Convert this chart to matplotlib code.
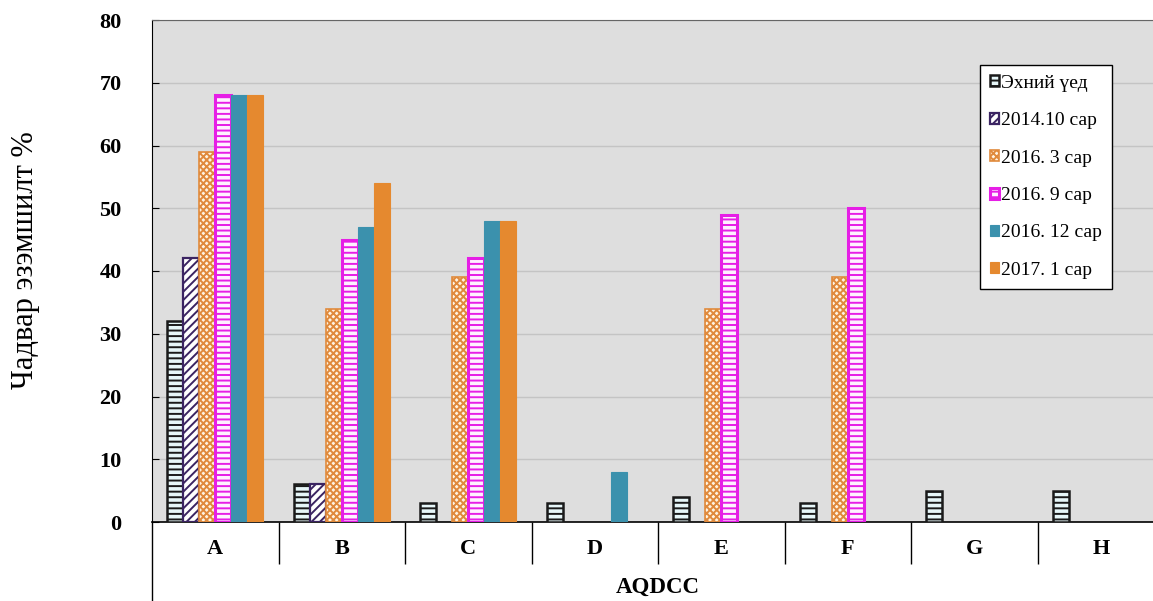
import numpy as np
import matplotlib
matplotlib.use("Agg")
import matplotlib.pyplot as plt

# data (None = no bar)
categories = ["A", "B", "C", "D", "E", "F", "G", "H"]
series_names = ["Эхний үед", "2014.10 сар", "2016. 3 сар", "2016. 9 сар", "2016. 12 сар", "2017. 1 сар"]
s_base = [32, 6, 3, 3, 4, 3, 5, 5]
s_2014_10 = [42, 6, None, None, None, None, None, None]
s_2016_3 = [59, 34, 39, None, 34, 39, None, None]
s_2016_9 = [68, 45, 42, None, 49, 50, None, None]
s_2016_12 = [68, 47, 48, 8, None, None, None, None]
s_2017_1 = [68, 54, 48, None, None, None, None, None]
all_series = [s_base, s_2014_10, s_2016_3, s_2016_9, s_2016_12, s_2017_1]

# styles: (fill, edge, hatch, linewidth)
styles = [
    ("#e6f6f8", "#1a1a1a", "---", 1.8),
    ("white", "#3b2462", "////", 1.6),
    ("#fff4e2", "#e08a3c", "xxxxx", 1.2),
    ("#fff0ff", "#e61ee6", "---", 2.2),
    ("#3b91ad", "#3b91ad", None, 0.8),
    ("#e5892f", "#e5892f", None, 0.8),
]

plt.rcParams['font.family'] = ['Liberation Serif', 'DejaVu Serif']
plt.rcParams['hatch.linewidth'] = 1.4

W, H = 1153, 601
fig = plt.figure(figsize=(W / 100, H / 100), dpi=100)
ax = fig.add_axes([152 / W, (H - 522) / H, 1012 / W, 502 / H])
ax.set_facecolor("#dedede")

x = np.arange(len(categories))
bw = 0.127
for i, (vals, name, st) in enumerate(zip(all_series, series_names, styles)):
    fc, ec, hatch, lw = st
    v = np.array([np.nan if a is None else a for a in vals], dtype=float)
    ax.bar(x + (i - 2.5) * bw, v, width=bw, color=fc, edgecolor=ec,
           hatch=hatch, linewidth=lw, label=name, zorder=3)

ax.set_xlim(-0.5, 7.5)
ax.set_ylim(0, 80)
ax.set_yticks(range(0, 81, 10))
ax.yaxis.grid(True, color="#c4c4c4", linewidth=1.0, zorder=0)
ax.set_axisbelow(True)

ax.spines["right"].set_visible(False)
ax.spines["top"].set_color("#666666")
ax.spines["left"].set_color("black")
ax.spines["bottom"].set_color("black")
ax.spines["bottom"].set_linewidth(1.2)

ax.tick_params(axis="y", direction="in", length=5, labelsize=16, pad=22)
for t in ax.get_yticklabels():
    t.set_fontweight("bold")

ax.set_xticks(x)
ax.set_xticklabels(categories, fontsize=16, fontweight="bold")
ax.tick_params(axis="x", which="major", length=0, pad=12)
ax.set_xticks(x[:-1] + 0.5, minor=True)
ax.tick_params(axis="x", which="minor", direction="out", length=30, width=1, color="black")

# left axis line runs on below the plot
ax.plot([0, 0], [0, -0.16], transform=ax.transAxes, color="black", lw=1, clip_on=False)

ax.set_xlabel("AQDCC", fontsize=16.5, fontweight="bold", labelpad=6)
fig.text(26 / W, 1 - 260 / H, "Чадвар эзэмшилт %", rotation=90, fontsize=22,
         ha="center", va="center")

leg = ax.legend(loc="upper left", bbox_to_anchor=(980 / W, 1 - 65 / H),
                bbox_transform=fig.transFigure, fontsize=14, frameon=True,
                fancybox=False, edgecolor="black", framealpha=1,
                handlelength=0.5, handleheight=0.5, handletextpad=0.1,
                labelspacing=1.05, borderpad=0.5, borderaxespad=0)
leg.get_frame().set_linewidth(1.0)

fig.savefig("out.png", dpi=100)
